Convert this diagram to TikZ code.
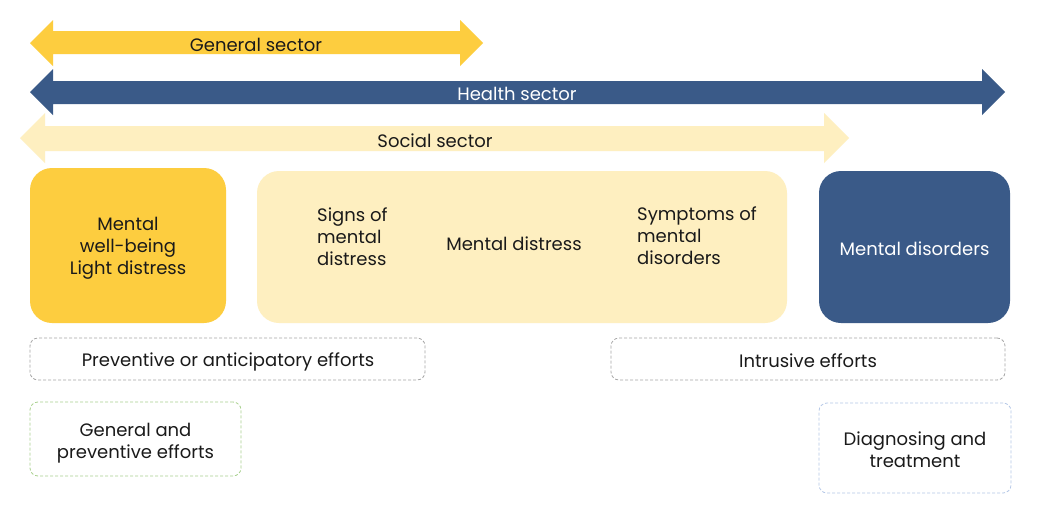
\documentclass[tikz,border=0pt]{standalone}
\usepackage{fontspec}
\setmainfont{Poppins}
\definecolor{gold}{HTML}{FDCD3F}
\definecolor{paleyellow}{HTML}{FEEFC0}
\definecolor{navy}{HTML}{3A5A88}
\definecolor{ink}{HTML}{1A1A1A}
\definecolor{dashgray}{HTML}{A6A6A6}
\definecolor{dashgreen}{HTML}{A9D18E}
\definecolor{dashblue}{HTML}{B4C7E7}
\tikzset{
  lbl/.style={font=\fontsize{18}{22}\selectfont, text=ink, inner sep=0pt, align=center},
  solidbox/.style={rounded corners=22pt, inner sep=0pt, draw=none},
  dashbox/.style={rounded corners=8pt, inner sep=0pt, dash pattern=on 3pt off 2pt, line width=0.8pt},
}
\begin{document}
\begin{tikzpicture}[x=1pt,y=-1pt]
\useasboundingbox[fill=white] (0,0) rectangle (1038,514);
% sector arrows
\fill[gold] (30,43) -- (53,20) -- (53,31) -- (460,31) -- (460,20) -- (483,43) -- (460,66) -- (460,54) -- (53,54) -- (53,66) -- cycle;
\node[lbl] (gen) at (256,44.5) {General sector};
\fill[navy] (30,92) -- (53,69) -- (53,81) -- (982,81) -- (982,69) -- (1005,92) -- (982,115) -- (982,104) -- (53,104) -- (53,115) -- cycle;
\node[lbl, text=white] (health) at (517,93.5) {Health sector};
\fill[paleyellow] (20,138) -- (45,113) -- (45,126) -- (824,126) -- (824,113) -- (849,138) -- (824,163) -- (824,151) -- (45,151) -- (45,163) -- cycle;
\node[lbl] (social) at (435,140.5) {Social sector};
% state boxes
\node[solidbox, fill=gold, minimum width=196pt, minimum height=155pt] (well) at (128,245.5) {};
\node[lbl] (welltxt) at (128,248.5) {Mental\\well-being\\Light distress};
\node[solidbox, fill=paleyellow, minimum width=530pt, minimum height=152pt] (distbox) at (522,247) {};
\node[solidbox, fill=navy, minimum width=191pt, minimum height=152pt] (disorders) at (914.5,247) {};
\node[lbl, text=white] (distxt) at (914.5,249) {Mental disorders};
\node[lbl, align=left, anchor=west] (signs) at (317,237) {Signs of\\mental\\distress};
\node[lbl] (distress) at (514,244) {Mental distress};
\node[lbl, align=left, anchor=west] (symptoms) at (637,236) {Symptoms of\\mental\\disorders};
% effort boxes
\node[dashbox, draw=dashgray, minimum width=395pt, minimum height=42pt] (prev) at (227.5,359) {};
\node[lbl] (prevtxt) at (228,362) {Preventive or anticipatory efforts};
\node[dashbox, draw=dashgray, minimum width=394pt, minimum height=42pt] (intr) at (808,359) {};
\node[lbl] (intrtxt) at (808,361) {Intrusive efforts};
\node[dashbox, draw=dashgreen, minimum width=211pt, minimum height=74pt] (genprev) at (135.5,439) {};
\node[lbl] (genprevtxt) at (135.5,443) {General and\\preventive efforts};
\node[dashbox, draw=dashblue, minimum width=192pt, minimum height=90pt] (diag) at (915,448) {};
\node[lbl] (diagtxt) at (915,449.5) {Diagnosing and\\treatment};
\end{tikzpicture}
\end{document}
